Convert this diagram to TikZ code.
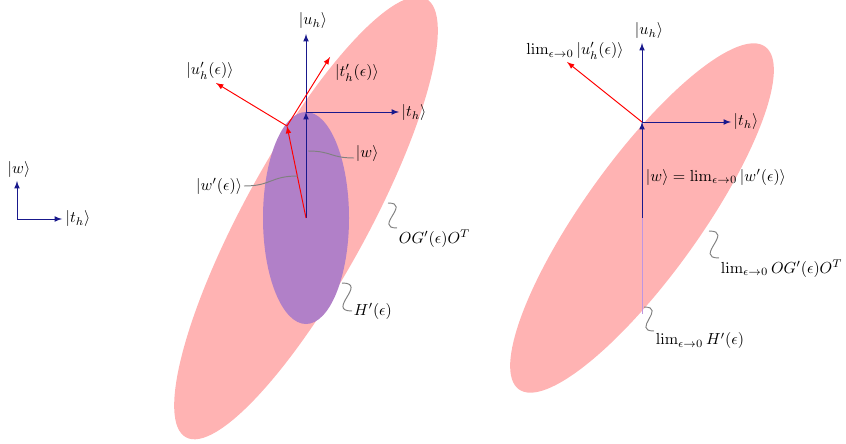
\documentclass[tikz,border=0pt]{standalone}
\usepackage{amsmath,amssymb}
\usepackage{xcolor}
\usepackage{tikz}
\usetikzlibrary{arrows,calc}
\definecolor{EVblue}{RGB}{25,25,140}
\definecolor{EVred}{RGB}{255,0,0}
\definecolor{EVpink}{RGB}{255,179,179}
\definecolor{EVpurple}{RGB}{177,128,200}
\definecolor{EVlilac}{RGB}{190,150,225}
\tikzstyle{vecB} = [->, draw=EVblue, semithick]
\tikzstyle{vecR} = [->, draw=EVred, semithick]
\tikzstyle{lbl}  = [inner sep=1pt]
\tikzstyle{wig}  = [draw=gray, semithick]

\begin{document}
\begin{tikzpicture}[x=0.625pt, y=-0.625pt, >=latex]
  \useasboundingbox (0,0) rectangle (846,444);

  % left: reference frame
  \coordinate (L)  at (17,219);
  \coordinate (Lw) at (17,181);
  \coordinate (Lt) at (62,219);
  \draw[vecB] (L) -- (Lw);
  \draw[vecB] (L) -- (Lt);
  \node[lbl] (Lwl) at (19,170) {$|w\rangle$};
  \node[lbl] (Ltl) at (78,219) {$|t_h\rangle$};

  % middle: finite epsilon
  \fill[EVpink, rotate around={61.3:(306,218)}] (306,218) ellipse [x radius=250, y radius=62];
  \fill[EVpurple] (306,218) ellipse [x radius=43, y radius=106];
  \coordinate (M)   at (306,218);
  \coordinate (Mw)  at (306,112);
  \coordinate (Mu)  at (306,34);
  \coordinate (Mt)  at (399,112);
  \coordinate (Mw2) at (287,126);
  \coordinate (Mu2) at (216,83);
  \coordinate (Mt2) at (330,57);
  \draw[vecB] (M)  -- (Mw);
  \draw[vecB] (Mw) -- (Mu);
  \draw[vecB] (Mw) -- (Mt);
  \draw[vecR] (M)   -- (Mw2);
  \draw[vecR] (Mw2) -- (Mu2);
  \draw[vecR] (Mw2) -- (Mt2);
  \node[lbl] (Mul)  at (313,21)  {$|u_h\rangle$};
  \node[lbl] (Mtl)  at (414,113) {$|t_h\rangle$};
  \node[lbl] (Mu2l) at (210,71)  {$|u'_h(\epsilon)\rangle$};
  \node[lbl] (Mt2l) at (357,73)  {$|t'_h(\epsilon)\rangle$};
  \node[lbl, anchor=base west]  (Mwl)  at (354,158) {$|w\rangle$};
  \node[lbl, anchor=east]       (Mw2l) at (244,186) {$|w'(\epsilon)\rangle$};
  \node[lbl, anchor=north west] (MGl)  at (397,228) {$OG'(\epsilon)O^T$};
  \node[lbl, anchor=west]       (MHl)  at (352,311) {$H'(\epsilon)$};
  \coordinate (Mws) at (308,151);
  \coordinate (Mw2s) at (298,176);
  \coordinate (MGs) at (388,203);
  \coordinate (MHs) at (342,283);
  \draw[wig] (Mws)  to[out=0,in=180,looseness=1.3] (Mwl.base west);
  \draw[wig] (Mw2s) to[out=180,in=0,looseness=1.3] (Mw2l.east);
  \draw[wig] (MGs)  to[out=0,in=180,looseness=2.3] (MGl.north west);
  \draw[wig] (MHs)  to[out=0,in=180,looseness=2.3] (MHl.west);

  % right: limit epsilon -> 0
  \fill[EVpink, rotate around={54.3:(642,218)}] (642,218) ellipse [x radius=211, y radius=58];
  \coordinate (R)   at (642,218);
  \coordinate (Rw)  at (642,122);
  \coordinate (Rb)  at (642,314);
  \coordinate (Ru)  at (642,43);
  \coordinate (Rt)  at (731,122);
  \coordinate (Ru2) at (567,62);
  \draw[EVlilac, semithick] (Rw) -- (Rb);
  \draw[vecB] (R)  -- (Rw);
  \draw[vecB] (Rw) -- (Ru);
  \draw[vecB] (Rw) -- (Rt);
  \draw[vecR] (Rw) -- (Ru2);
  \node[lbl] (Rul)  at (649,31)  {$|u_h\rangle$};
  \node[lbl] (Rtl)  at (746,122) {$|t_h\rangle$};
  \node[lbl] (Ru2l) at (575,51)  {$\lim_{\epsilon\to0}|u'_h(\epsilon)\rangle$};
  \node[lbl, anchor=west] (Rwl) at (644,177) {$|w\rangle=\lim_{\epsilon\to0}|w'(\epsilon)\rangle$};
  \node[lbl, anchor=north west] (RGl) at (719,258) {$\lim_{\epsilon\to0}OG'(\epsilon)O^T$};
  \node[lbl, anchor=north west] (RHl) at (654,331) {$\lim_{\epsilon\to0}H'(\epsilon)$};
  \coordinate (RGs) at (709,231);
  \coordinate (RHs) at (644,307);
  \draw[wig] (RGs) to[out=0,in=180,looseness=2.3] (RGl.north west);
  \draw[wig] (RHs) to[out=0,in=180,looseness=2.3] (RHl.north west);
\end{tikzpicture}
\end{document}
